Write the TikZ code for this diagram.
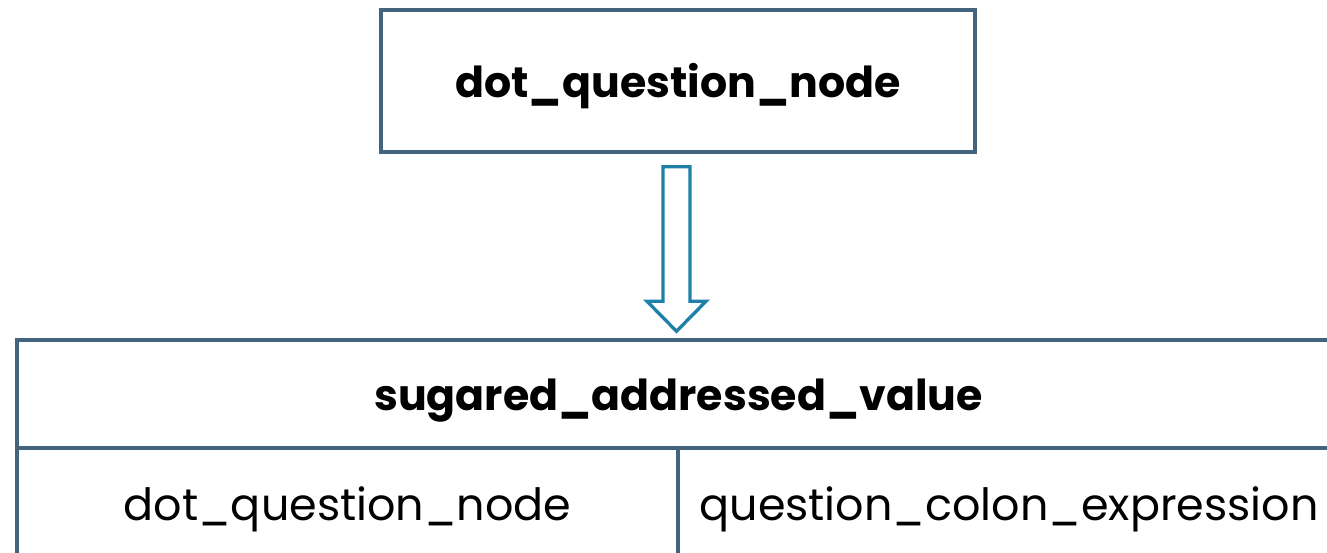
\documentclass[tikz,border=0pt]{standalone}
\usepackage{fontspec}
\setmainfont{Poppins}
\usetikzlibrary{calc}
\definecolor{tableblue}{RGB}{68,100,126}
\definecolor{arrowblue}{RGB}{31,128,168}
\tikzset{
  cell/.style={draw=tableblue,line width=2pt,inner sep=0pt,align=center,
    text height=0.64cm,text depth=0pt,
    font=\fontsize{25.3}{30}\selectfont},
  headcell/.style={cell,font=\fontsize{24.3}{29}\selectfont\bfseries},
  hollowarrow/.style={draw=arrowblue,line width=1.9pt,fill=white,line join=miter}
}
\begin{document}
\begin{tikzpicture}[x=0.02cm,y=-0.02cm]
  \useasboundingbox (0,0) rectangle (1327,552);
  \clip (0,0) rectangle (1327,552);

  % top box
  \node[headcell,minimum width=11.88cm,minimum height=2.84cm] (top) at (678,81) {dot\_question\_node};

  % table
  \node[headcell,minimum width=26.46cm,minimum height=2.16cm] (head) at (678.5,394) {sugared\_addressed\_value};
  \node[cell,minimum width=13.22cm,minimum height=2.24cm] (left) at (347.5,504) {dot\_question\_node};
  \node[cell,minimum width=13.24cm,minimum height=2.24cm] (right) at (1009,504) {question\_colon\_expression};

  % arrow
  \coordinate (tail) at ($(top.south)+(-1.5,13)$);
  \coordinate (tip) at ($(head.north)+(-2,-7)$);
  \draw[hollowarrow] ($(tail)+(-13.5,0)$) -- ($(tail)+(13.5,0)$)
    -- ($(tip)+(13.5,-30)$) -- ($(tip)+(29.5,-30)$) -- (tip)
    -- ($(tip)+(-29.5,-30)$) -- ($(tip)+(-13.5,-30)$) -- cycle;
\end{tikzpicture}
\end{document}
